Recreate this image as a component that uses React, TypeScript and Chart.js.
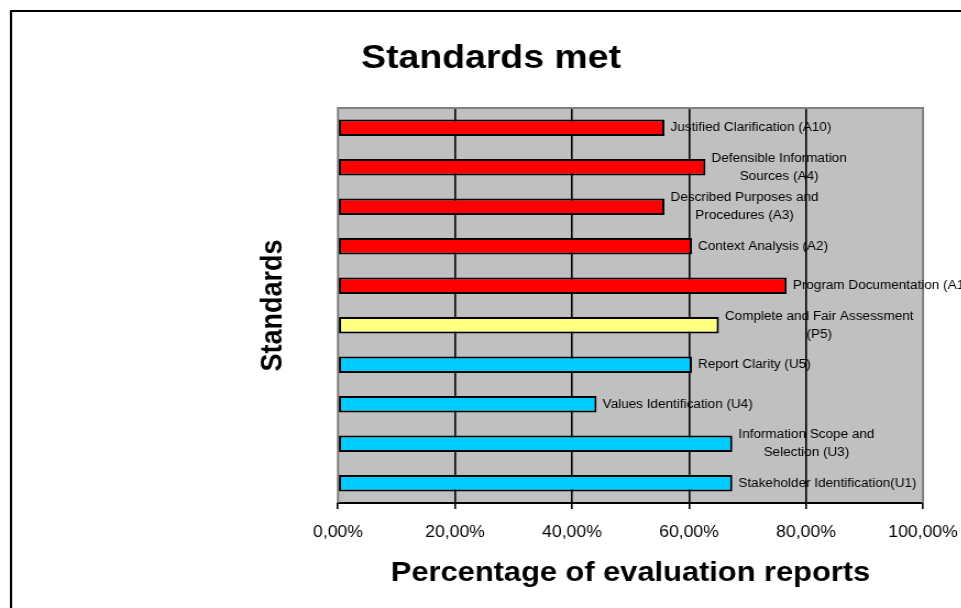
import React, { useEffect, useRef } from "react";
import { Chart, registerables } from "chart.js";

Chart.register(...registerables);

// ---- data ----
const categoryLines: string[][] = [
  ["Justified Clarification (A10)"],
  ["Defensible Information", "Sources (A4)"],
  ["Described Purposes and", "Procedures (A3)"],
  ["Context Analysis (A2)"],
  ["Program Documentation (A1)"],
  ["Complete and Fair Assessment", "(P5)"],
  ["Report Clarity (U5)"],
  ["Values Identification (U4)"],
  ["Information Scope and", "Selection (U3)"],
  ["Stakeholder Identification(U1)"],
];
const standardGroups = ["A", "A", "A", "A", "A", "P", "U", "U", "U", "U"];
const percentMet = [0.558, 0.628, 0.558, 0.605, 0.767, 0.651, 0.605, 0.442, 0.674, 0.674];
const tickValues = [0, 0.2, 0.4, 0.6, 0.8, 1.0];

const chartTitle = "Standards met";
const xTitle = "Percentage of evaluation reports";
const yTitle = "Standards";

const groupColor: Record<string, string> = { A: "#FF0000", P: "#FFFF80", U: "#00CCFF" };

// ---- layout (internal canvas units; canvas is stretched horizontally by SX) ----
const SX = 1.1;
const W = 874;
const H = 608;
const XAXIS_H = 40;
const PLOT_LEFT = 338 / SX;
const PLOT_RIGHT = 923 / SX;
const PLOT_TOP = 108;
const PLOT_BOTTOM = 503;
const FONT = "'Liberation Sans', Arial, Helvetica, sans-serif";

const decorPlugin = {
  id: "decor",
  beforeDraw(chart: any) {
    const { ctx, chartArea: a } = chart;
    ctx.save();
    ctx.fillStyle = "#C0C0C0";
    ctx.fillRect(a.left, a.top, a.right - a.left, a.bottom - a.top);
    ctx.restore();
  },
  beforeDatasetsDraw(chart: any) {
    const { ctx, chartArea: a } = chart;
    ctx.save();
    ctx.strokeStyle = "#808080";
    ctx.lineWidth = 2;
    ctx.beginPath();
    ctx.moveTo(a.left, a.bottom);
    ctx.lineTo(a.left, a.top);
    ctx.lineTo(a.right, a.top);
    ctx.lineTo(a.right, a.bottom);
    ctx.stroke();
    ctx.restore();
  },
  afterDatasetsDraw(chart: any) {
    const { ctx } = chart;
    const meta = chart.getDatasetMeta(0);
    ctx.save();
    ctx.font = `12.3px ${FONT}`;
    ctx.fillStyle = "#000";
    ctx.textAlign = "center";
    ctx.textBaseline = "middle";
    meta.data.forEach((bar: any, i: number) => {
      const lines = categoryLines[i];
      const maxW = Math.max(...lines.map((l) => ctx.measureText(l).width));
      const cx = bar.x + 5.5 + maxW / 2;
      const n = lines.length;
      lines.forEach((l, j) => {
        ctx.fillText(l, cx, bar.y + (j - (n - 1) / 2) * 18);
      });
    });
    ctx.restore();
  },
  afterDraw(chart: any) {
    const { ctx, chartArea: a } = chart;
    ctx.save();
    ctx.fillStyle = "#000";
    // main title
    ctx.font = `bold 34px ${FONT}`;
    ctx.textAlign = "center";
    ctx.textBaseline = "alphabetic";
    ctx.fillText(chartTitle, 491 / SX, 68);
    // x title
    ctx.font = `bold 28px ${FONT}`;
    ctx.fillText(xTitle, (a.left + a.right) / 2, 581);
    // y title
    ctx.save();
    ctx.translate(282 / SX, (a.top + a.bottom) / 2);
    ctx.rotate(-Math.PI / 2);
    ctx.font = `bold 27px ${FONT}`;
    ctx.fillText(yTitle, 0, 0);
    ctx.restore();
    // outer frame
    ctx.strokeStyle = "#000";
    ctx.lineWidth = 2;
    ctx.strokeRect(11 / SX, 11, 3000, 3000);
    ctx.restore();
  },
};

export default function App() {
  const ref = useRef<HTMLCanvasElement | null>(null);

  useEffect(() => {
    if (!ref.current) return;
    const chart = new Chart(ref.current, {
      type: "bar",
      data: {
        labels: categoryLines.map((l) => l.join(" ")),
        datasets: [
          {
            data: percentMet,
            backgroundColor: standardGroups.map((g) => groupColor[g]),
            borderColor: "#000",
            borderWidth: 2,
            borderSkipped: false,
            barPercentage: 0.42,
            categoryPercentage: 1.0,
          },
        ],
      },
      options: {
        indexAxis: "y",
        animation: false,
        responsive: false,
        devicePixelRatio: 1,
        layout: {
          padding: {
            left: PLOT_LEFT,
            top: PLOT_TOP,
            right: W - PLOT_RIGHT,
            bottom: H - PLOT_BOTTOM - XAXIS_H,
          },
        },
        plugins: { legend: { display: false }, title: { display: false }, tooltip: { enabled: false } },
        scales: {
          x: {
            min: 0,
            max: 1,
            afterFit(scale: any) {
              scale.height = XAXIS_H;
              scale.paddingLeft = 0;
              scale.paddingRight = 0;
              scale.paddingTop = 0;
              scale.paddingBottom = 0;
            },
            afterBuildTicks(scale: any) {
              scale.ticks = tickValues.map((v) => ({ value: v }));
            },
            ticks: {
              autoSkip: false,
              maxRotation: 0,
              padding: 14,
              color: "#000",
              font: { family: FONT, size: 16 },
              callback: (v: any) => (Number(v) * 100).toFixed(2).replace(".", ",") + "%",
            },
            grid: {
              color: (c: any) =>
                c.tick && (c.tick.value === 0 || c.tick.value === 1) ? "rgba(0,0,0,0)" : "#000",
              tickColor: "#000",
              lineWidth: 1.6,
              tickLength: 6,
            },
            border: { display: true, color: "#000", width: 2 },
          },
          y: { display: false },
        },
      },
      plugins: [decorPlugin],
    });
    return () => chart.destroy();
  }, []);

  return (
    <div
      style={{
        position: "fixed",
        left: 0,
        top: 0,
        width: W,
        height: H,
        transform: `scaleX(${SX})`,
        transformOrigin: "0 0",
      }}
    >
      <canvas ref={ref} width={W} height={H} style={{ width: W, height: H, display: "block" }} />
    </div>
  );
}
